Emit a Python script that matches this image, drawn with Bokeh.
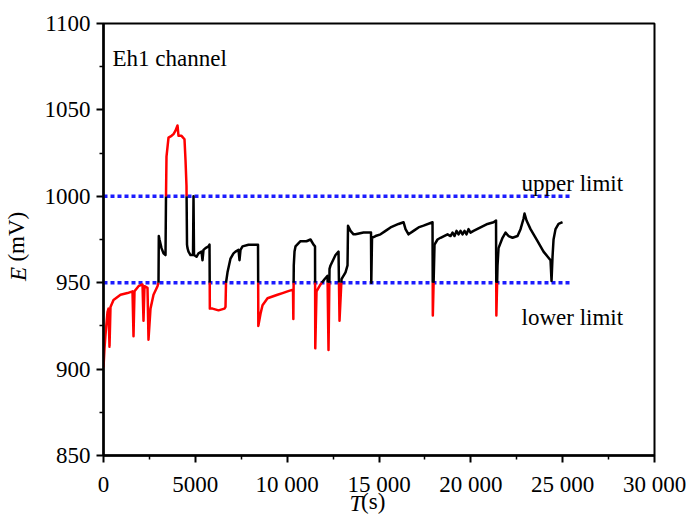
import math
from bokeh.plotting import figure
from bokeh.models import Label, ColumnDataSource, FixedTicker, LinearAxis
from bokeh.embed import file_html
from bokeh.resources import INLINE

# ---- data ----
T_s = [0, 54, 109, 218, 272, 327, 381, 545, 926, 1307, 1579, 1634, 1688, 1906, 2124, 2178,
       2232, 2396, 2450, 2559, 2723, 2940, 2995, 3011, 3049, 3158, 3267, 3376, 3403, 3430,
       3539, 3703, 3812, 3920, 4029, 4084, 4247, 4410, 4465, 4519, 4547, 4574, 4628, 4737,
       4873, 4901, 4928, 5064, 5173, 5336, 5391, 5445, 5554, 5717, 5772, 5790, 5935, 6262,
       6588, 6643, 6670, 6752, 6915, 7079, 7187, 7351, 7405, 7460, 7569, 7895, 8413, 8430,
       8549, 8658, 8930, 9202, 9474, 9747, 10019, 10318, 10336, 10360, 10400, 10454, 10727,
       11053, 11271, 11435, 11517, 11530, 11598, 11816, 12033, 12197, 12251, 12306, 12360,
       12632, 12796, 12850, 12959, 13177, 13286, 13313, 13449, 13613, 13721, 14157, 14565,
       14580, 14620, 14811, 15083, 15356, 15627, 16063, 16335, 16444, 16607, 16880, 17152,
       17424, 17914, 17930, 18023, 18186, 18350, 18731, 18894, 19003, 19112, 19221, 19330,
       19439, 19548, 19657, 19766, 19874, 19983, 20147, 20528, 20909, 21236, 21372, 21390,
       21453, 21508, 21726, 21889, 22052, 22270, 22543, 22706, 22869, 22924, 23033, 23250,
       23632, 23958, 24339, 24394, 24448, 24503, 24611, 24775, 24993]
E_mV = [901, 912, 920, 933, 935, 913, 936, 940, 943, 944, 945, 919, 945, 948, 949, 928,
        948, 947, 917, 935, 943, 948, 950, 977, 975, 970, 967, 966, 1000, 1023,
        1034, 1035, 1036, 1038, 1041, 1035, 1035, 1033, 1021, 1006, 972, 970, 968, 966,
        966, 1000, 966, 965, 967, 968, 963, 969, 970, 971, 972, 935, 935, 934,
        935, 936, 950, 956, 964, 967, 968, 969, 963, 969, 971, 972, 972, 925,
        932, 937, 941, 942, 943, 944, 945, 946, 929, 960, 968, 971, 974,
        974, 975, 972, 971, 912, 945, 949, 952, 954, 911, 958, 960,
        966, 968, 928, 952, 956, 960, 983, 980, 978, 978, 979, 979,
        950, 976, 977, 978, 980, 982, 984, 985, 981, 978, 980, 982,
        983, 985, 931, 972, 975, 976, 978, 977, 979, 977, 980, 978,
        980, 978, 980, 978, 981, 979, 980, 982, 984, 985, 986, 931,
        960, 970, 976, 979, 977, 976, 977, 981, 987, 990, 986, 981,
        974, 968, 963, 951, 965, 975, 981, 984, 985]

lower_limit = 950
upper_limit = 1000
limit_T = [0, 25450]

x_ticks = [0, 5000, 10000, 15000, 20000, 25000, 30000]
x_tick_labels = ["0", "5000", "10 000", "15 000", "20 000", "25 000", "30 000"]
y_ticks = [850, 900, 950, 1000, 1050, 1100]

# ---- split the trace where it leaves the [lower, upper] band ----
def split_by_band(ts, es, lo, hi):
    out_x, out_y, out_c = [], [], []
    cur_c, cx, cy = None, [], []

    def colour(e):
        return "black" if lo <= e <= hi else "#ff0000"

    for i in range(len(ts) - 1):
        t0, e0, t1, e1 = ts[i], es[i], ts[i + 1], es[i + 1]
        cuts = []
        for b in (lo, hi):
            if (e0 - b) * (e1 - b) < 0:
                f = (b - e0) / (e1 - e0)
                cuts.append((f, t0 + f * (t1 - t0), b))
        cuts.sort()
        pts = [(t0, e0)] + [(c[1], c[2]) for c in cuts] + [(t1, e1)]
        for a, b2 in zip(pts[:-1], pts[1:]):
            c = colour((a[1] + b2[1]) / 2)
            if c != cur_c:
                if cx:
                    out_x.append(cx); out_y.append(cy); out_c.append(cur_c)
                cur_c, cx, cy = c, [a[0]], [a[1]]
            cx.append(b2[0]); cy.append(b2[1])
    if cx:
        out_x.append(cx); out_y.append(cy); out_c.append(cur_c)
    return out_x, out_y, out_c

xs, ys, cs = split_by_band(T_s, E_mV, lower_limit, upper_limit)

FONT = "Liberation Serif"
FS = "23px"
NB = "\u00a0"

p = figure(width=686, height=518, output_backend="svg", toolbar_location=None,
           x_range=(0, 30000), y_range=(850, 1100),
           min_border_left=102, min_border_right=32, min_border_top=23, min_border_bottom=61)
p.grid.visible = False
p.outline_line_color = "black"
p.outline_line_width = 2
p.background_fill_color = "white"
p.border_fill_color = "white"

for ax in (p.xaxis[0], p.yaxis[0]):
    ax.axis_line_width = 2.5
    ax.axis_line_color = "black"
    ax.major_tick_line_width = 2
    ax.minor_tick_line_width = 1.5
    ax.major_tick_out = 7
    ax.major_tick_in = 0
    ax.minor_tick_out = 4
    ax.minor_tick_in = 0
    ax.major_label_text_font = FONT
    ax.major_label_text_font_size = FS
    ax.major_label_text_color = "black"
    ax.axis_label_text_font = FONT
    ax.axis_label_text_font_size = FS
    ax.axis_label_text_color = "black"
    ax.axis_label_text_font_style = "italic"

p.xaxis[0].ticker = FixedTicker(ticks=x_ticks, minor_ticks=[t + 2500 for t in x_ticks[:-1]])
p.xaxis[0].major_label_overrides = {t: l for t, l in zip(x_ticks, x_tick_labels)}
p.xaxis[0].major_label_standoff = 9
p.xaxis[0].axis_label = "T" + NB * 8
p.xaxis[0].axis_label_standoff = -9

p.yaxis[0].ticker = FixedTicker(ticks=y_ticks, minor_ticks=[v + 25 for v in y_ticks[:-1]])
p.yaxis[0].major_label_standoff = 6
p.yaxis[0].axis_label = "E" + NB * 12
p.yaxis[0].axis_label_standoff = 11

def title_axis(text, standoff):
    ax = LinearAxis(ticker=FixedTicker(ticks=[]), axis_line_color=None,
                    major_tick_line_color=None, minor_tick_line_color=None,
                    major_tick_out=0, minor_tick_out=0, major_label_text_font_size="0px",
                    axis_label=text, axis_label_standoff=standoff,
                    axis_label_text_font=FONT, axis_label_text_font_size=FS,
                    axis_label_text_font_style="normal", axis_label_text_color="black")
    return ax

p.add_layout(title_axis("(s)" + NB * 2, -30), "below")
p.add_layout(title_axis(NB + "(mV)", -26), "left")

# limit lines
p.line(limit_T, [upper_limit] * 2, line_color="#1c1cff", line_width=3.5, line_dash="4 3")
p.line(limit_T, [lower_limit] * 2, line_color="#1c1cff", line_width=3.5, line_dash="4 3")

src = ColumnDataSource(data=dict(xs=xs, ys=ys, c=cs))
p.multi_line("xs", "ys", line_color="c", line_width=2.5, line_join="round", source=src)

def lab(text, x, y):
    p.add_layout(Label(x=x, y=y, text=text, text_font=FONT, text_font_size=FS,
                       text_color="black", text_align="left", text_baseline="alphabetic"))

lab("Eh1 channel", 490, 1079.5)
lab("upper limit", 22760, 1007.5)
lab("lower limit", 22760, 930.0)

open("out.html", "w").write(file_html(p, INLINE))
